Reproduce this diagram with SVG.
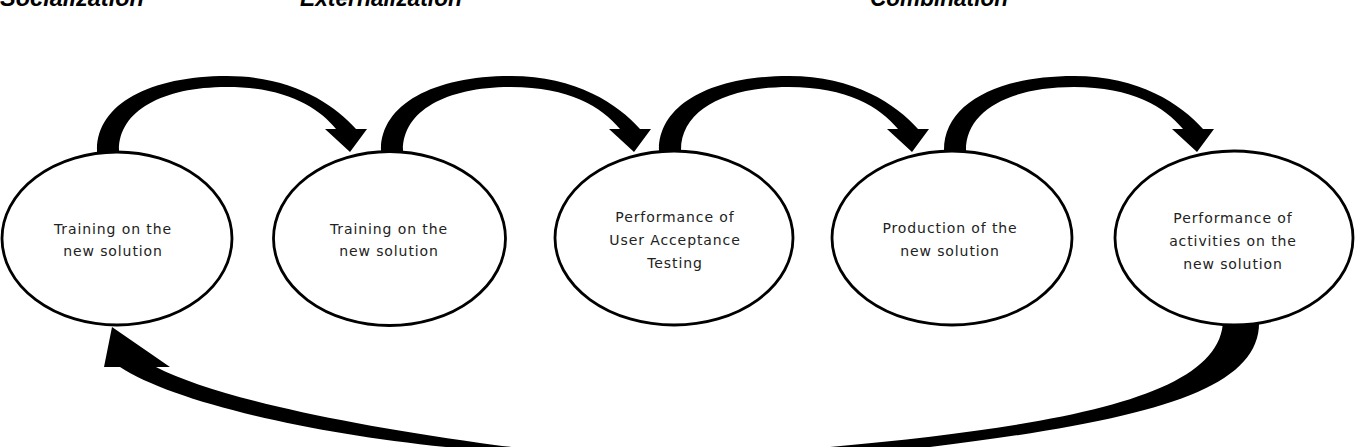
<svg xmlns="http://www.w3.org/2000/svg" width="1359" height="447" viewBox="0 0 1359 447">
<defs>
<style>
.node ellipse{fill:#fff;stroke:#000;stroke-width:2.8}
.node text{font-family:"DejaVu Sans",sans-serif;font-size:14px;letter-spacing:0.9px;fill:#222;text-anchor:middle}
.phase{font-family:"Liberation Sans",Arial,sans-serif;font-size:23px;font-weight:bold;font-style:italic;fill:#000}
.arrow{fill:#000}
</style>
<path id="arc" d="M 97,162 L 97,150 C 97,104 150,76 227,76 C 292,76 334,104 356,129 L 367,129 L 350,152 L 325,129 L 336,129 C 318,107 285,87 227,87 C 162,87 119,111 119,150 L 119,162 Z"/>
</defs>
<rect width="1359" height="447" fill="#fff"/>
<g id="phases">
<text class="phase" x="0" y="6" textLength="144" lengthAdjust="spacingAndGlyphs">Socialization</text>
<text class="phase" x="300" y="6" textLength="162" lengthAdjust="spacingAndGlyphs">Externalization</text>
<text class="phase" x="870" y="6" textLength="138" lengthAdjust="spacingAndGlyphs">Combination</text>
</g>
<g id="connectors" class="arrow">
<use href="#arc"/>
<use href="#arc" transform="translate(284,0)"/>
<use href="#arc" transform="translate(562,0)"/>
<use href="#arc" transform="translate(847,0)"/>
<path d="M 1223,320 C 1222,395 1070,425 830,447 C 690,458 560,455 480,443 C 330,422 210,395 156,367 L 170,367 L 112,327 L 104,367 L 120,367 C 170,400 300,432 446,447 C 600,463 790,465 930,447 C 1150,420 1262,390 1259,320 Z"/>
</g>
<g id="node1" class="node">
<ellipse cx="117" cy="238.5" rx="115" ry="86.5"/>
<text x="113" y="234">Training on the</text>
<text x="113" y="256">new solution</text>
</g>
<g id="node2" class="node">
<ellipse cx="389.5" cy="238.5" rx="116" ry="87"/>
<text x="389" y="234">Training on the</text>
<text x="389" y="256">new solution</text>
</g>
<g id="node3" class="node">
<ellipse cx="674" cy="238" rx="119" ry="87"/>
<text x="675" y="222">Performance of</text>
<text x="675" y="245">User Acceptance</text>
<text x="675" y="268">Testing</text>
</g>
<g id="node4" class="node">
<ellipse cx="952" cy="238" rx="120" ry="87"/>
<text x="950" y="233">Production of the</text>
<text x="950" y="256">new solution</text>
</g>
<g id="node5" class="node">
<ellipse cx="1234" cy="238" rx="119" ry="87"/>
<text x="1233" y="223">Performance of</text>
<text x="1233" y="246">activities on the</text>
<text x="1233" y="269">new solution</text>
</g>
</svg>
